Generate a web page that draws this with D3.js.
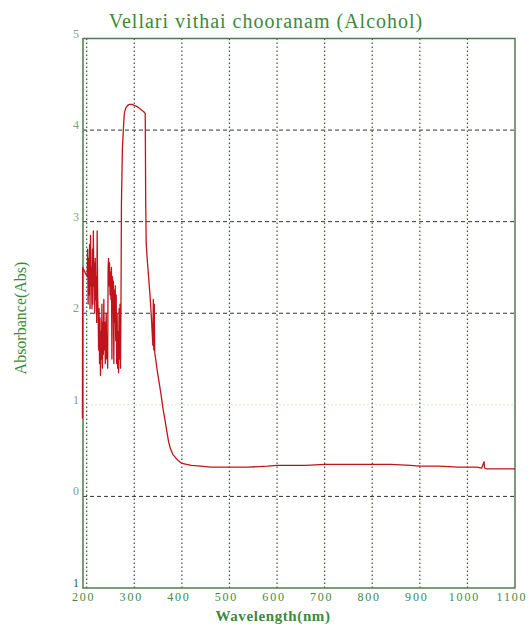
<!DOCTYPE html>
<html><head><meta charset="utf-8">
<script src="https://cdn.jsdelivr.net/npm/d3@7"></script>
<style>body{margin:0;background:#fff}svg{display:block}</style>
</head><body>
<script>
const title = "Vellari vithai chooranam (Alcohol)";
const xLabel = "Wavelength(nm)";
const yLabel = "Absorbance(Abs)";
const xTicks = [200,300,400,500,600,700,800,900,1000,1100];
const yTicks = [5,4,3,2,1,0,-1];
const yTickLabels = ["5","4","3","2","1","0","1"];
const wavelength = [191,191.5,201,202,203,204,205,206,207,208,209,210,211,212,213,214,215,216,217,218,219,220,221,222,223,224,225,226,227,228,229,230,231,232,233,234,235,236,237,238,239,240,241,242,243,244,245,246,247,248,249,250,251,252,253,254,255,256,257,258,259,260,261,262,263,264,265,266,267,268,269,270,271,272,273,275,277,279,282,286,290,295,300,305,310,315,320,323,324,325,327,330,333,336,338,339,340,341,342,343,345,348,352,356,360,364,368,372,376,381,387,393,400,410,420,440,460,480,500,540,580,600,620,660,700,740,780,800,840,880,900,940,980,1000,1020,1030,1035,1036,1040,1060,1080,1100];
const absorbance = [0.85,2.5,2.4,2.7,2.1,2.6,2.2,2.75,2.05,2.85,2.3,2.5,2.05,2.7,2.1,2.9,2.3,2.55,2.0,2.6,2.15,2.4,1.9,2.9,2.2,2.0,1.6,2.05,1.45,1.95,1.32,1.8,1.5,2.1,1.4,1.9,1.55,2.15,1.6,1.9,1.45,1.8,2.0,1.5,1.75,1.4,2.5,2.6,2.3,2.55,2.2,2.45,2.15,2.5,1.5,2.4,2.2,2.35,1.45,2.25,1.9,2.3,1.7,2.2,1.45,2.0,1.4,1.8,1.35,2.05,1.5,2.1,1.4,2.05,3.2,3.8,4.0,4.18,4.24,4.27,4.28,4.28,4.27,4.26,4.24,4.22,4.2,4.18,3.2,2.77,2.6,2.4,2.2,1.95,1.75,1.65,2.15,1.6,2.1,1.57,1.5,1.38,1.25,1.12,0.97,0.85,0.72,0.6,0.52,0.46,0.42,0.39,0.36,0.35,0.34,0.33,0.32,0.32,0.32,0.32,0.33,0.34,0.34,0.34,0.35,0.35,0.35,0.35,0.35,0.34,0.33,0.33,0.32,0.32,0.32,0.31,0.38,0.31,0.3,0.3,0.3,0.3];

const W = 531, H = 625;
const svg = d3.select("body").append("svg").attr("width", W).attr("height", H);
const x = d3.scaleLinear().domain([200,1100]).range([86.7,515]);
const y = d3.scaleLinear().domain([-1,5]).range([588,38.5]);
const frameL = 83, frameR = 515;
const serif = "'Liberation Serif', 'Times New Roman', serif";

// horizontal grid
svg.append("g").selectAll("line").data(yTicks.filter(v => v > -1 && v < 5)).join("line")
  .attr("x1", frameL).attr("x2", frameR)
  .attr("y1", d => y(d)).attr("y2", d => y(d))
  .attr("stroke", d => d === 1 ? "#cfe6cf" : "#333")
  .attr("stroke-width", 1)
  .attr("stroke-dasharray", d => d === 1 ? "2,2" : "4,3");

// vertical grid
svg.append("g").selectAll("line").data(xTicks.filter(v => v < 1100)).join("line")
  .attr("x1", d => x(d)).attr("x2", d => x(d))
  .attr("y1", y(5)).attr("y2", y(-1))
  .attr("stroke", "#2f5a2f").attr("stroke-width", 1.2)
  .attr("stroke-dasharray", "1.6,2.4");

// frame
svg.append("rect").attr("x", frameL).attr("y", y(5)).attr("width", frameR - frameL).attr("height", y(-1) - y(5))
  .attr("fill", "none").attr("stroke", "#4f7a4f").attr("stroke-width", 1.5);

// curve
const line = d3.line().x((d,i) => x(wavelength[i])).y(d => y(d));
svg.append("path").datum(absorbance).attr("d", line)
  .attr("fill", "none").attr("stroke", "#c0141c").attr("stroke-width", 1.3).attr("stroke-linejoin", "round");

// y tick labels
svg.append("g").selectAll("text").data(yTicks).join("text")
  .attr("x", 76).attr("y", d => y(d) - 1)
  .attr("text-anchor", "middle")
  .attr("font-family", serif).attr("font-size", 12)
  .attr("fill", (d,i) => i === yTicks.length - 1 ? "#2f5a2f" : "#7f9f7f")
  .text((d,i) => yTickLabels[i]);

// x tick labels
svg.append("g").selectAll("text").data(xTicks).join("text")
  .attr("x", d => x(d) - 3).attr("y", 601)
  .attr("text-anchor", "middle")
  .attr("font-family", serif).attr("font-size", 12)
  .attr("letter-spacing", 1.8)
  .attr("fill", "#3f8a3f")
  .text(d => d);

// title
svg.append("text").attr("x", 266).attr("y", 28).attr("text-anchor", "middle")
  .attr("font-family", serif).attr("font-size", 20)
  .attr("letter-spacing", 1)
  .attr("fill", "#3b8a3b").text(title);

// x label
svg.append("text").attr("x", 273).attr("y", 621).attr("text-anchor", "middle")
  .attr("font-family", serif).attr("font-size", 15).attr("font-weight", "bold")
  .attr("letter-spacing", 0.6)
  .attr("fill", "#3b8a3b").text(xLabel);

// y label
svg.append("text").attr("transform", "translate(26,318) rotate(-90)").attr("text-anchor", "middle")
  .attr("font-family", serif).attr("font-size", 16)
  .attr("fill", "#3b8a3b").text(yLabel);
</script>
</body></html>
